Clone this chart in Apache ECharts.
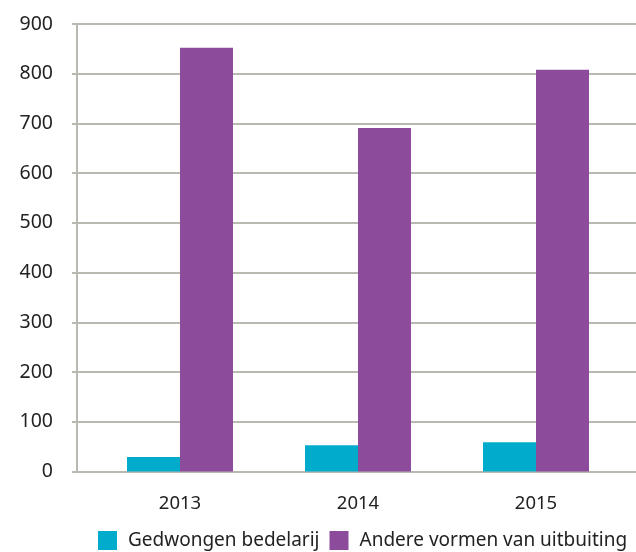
<!DOCTYPE html>
<html>
<head>
<meta charset="utf-8">
<script src="https://cdn.jsdelivr.net/npm/echarts@6/dist/echarts.min.js"></script>
<style>
  html, body { margin: 0; padding: 0; background: #fff; }
  #chart { width: 636px; height: 552px; }
</style>
</head>
<body>
<div id="chart"></div>
<script>
const years = ['2013', '2014', '2015'];
const bedelarij = [29, 53, 59];
const andere = [852, 691, 808];
const yTicks = { min: 0, max: 900, interval: 100 };

const gridColor = '#b9b9b1';
const textColor = '#222';
const font = 'Noto Sans';

let chart = echarts.init(document.getElementById('chart'), null, { renderer: 'canvas' });

chart.setOption({
  animation: false,
  // grid 0 only carries the y axis and the gridlines, grid 1 holds the bars
  grid: [
    { left: 77, right: 0, top: 24, bottom: 80.5 },
    { left: 91, right: 11, top: 24, bottom: 80.5 }
  ],
  legend: {
    left: 98,
    top: 531,
    padding: 0,
    itemWidth: 19,
    itemHeight: 19,
    itemGap: 10,
    icon: 'rect',
    textStyle: { fontFamily: font, fontSize: 19, color: textColor, padding: [0, 0, 0, 6] },
    data: ['Gedwongen bedelarij', 'Andere vormen van uitbuiting']
  },
  xAxis: [
    {
      gridIndex: 0,
      type: 'category',
      data: years,
      axisLine: { show: false },
      axisTick: { show: false },
      axisLabel: { show: false }
    },
    {
      gridIndex: 1,
      type: 'category',
      data: years,
      axisLine: { show: false },
      axisTick: { show: false },
      axisLabel: { fontFamily: font, fontSize: 18.5, color: textColor, margin: 23 }
    }
  ],
  yAxis: [
    {
      gridIndex: 0,
      type: 'value',
      min: yTicks.min,
      max: yTicks.max,
      interval: yTicks.interval,
      axisLine: { show: true, lineStyle: { color: gridColor, width: 2 } },
      axisTick: { show: true, length: 5, lineStyle: { color: gridColor, width: 2 } },
      splitLine: { show: true, lineStyle: { color: gridColor, width: 2 } },
      axisLabel: { fontFamily: font, fontSize: 19.5, color: textColor, margin: 24 }
    },
    {
      gridIndex: 1,
      type: 'value',
      min: yTicks.min,
      max: yTicks.max,
      interval: yTicks.interval,
      show: false
    }
  ],
  series: [
    {
      name: 'Gedwongen bedelarij',
      type: 'bar',
      xAxisIndex: 1,
      yAxisIndex: 1,
      data: bedelarij,
      barWidth: 53,
      barGap: '0%',
      itemStyle: { color: '#00abcc' }
    },
    {
      name: 'Andere vormen van uitbuiting',
      type: 'bar',
      xAxisIndex: 1,
      yAxisIndex: 1,
      data: andere,
      barWidth: 53,
      barGap: '0%',
      itemStyle: { color: '#8d4b9b' }
    }
  ]
});
</script>
</body>
</html>
